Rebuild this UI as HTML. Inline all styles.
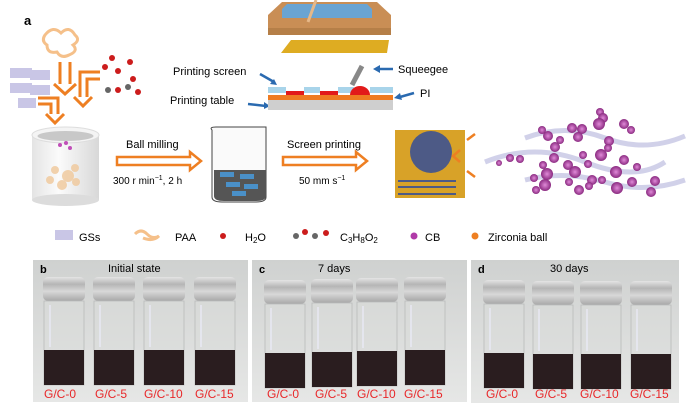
<!DOCTYPE html>
<html><head><meta charset="utf-8"><style>
body{margin:0;background:#fff;}
svg{display:block;font-family:"Liberation Sans",sans-serif;}
</style></head><body>
<svg width="700" height="412" viewBox="0 0 700 412" xmlns="http://www.w3.org/2000/svg">
<defs>
<linearGradient id="cyl" x1="0" x2="1"><stop offset="0" stop-color="#e4e4e4"/><stop offset=".4" stop-color="#fbfbfb"/><stop offset="1" stop-color="#d8d8d8"/></linearGradient>
<linearGradient id="bg" x1="0" y1="0" x2="0" y2="1"><stop offset="0" stop-color="#cfd1d0"/><stop offset="1" stop-color="#e6e7e6"/></linearGradient>
<linearGradient id="cap" x1="0" y1="0" x2="0" y2="1"><stop offset="0" stop-color="#e4e4e4"/><stop offset=".3" stop-color="#b5b5b5"/><stop offset=".6" stop-color="#d8d8d8"/><stop offset="1" stop-color="#a8a8a8"/></linearGradient>
<radialGradient id="cb"><stop offset="0" stop-color="#e08ad8"/><stop offset="1" stop-color="#8a2a80"/></radialGradient>
<g id="vial">
 <rect x="-21" y="0" width="42" height="24" rx="5" fill="url(#cap)"/>
 <path d="M-20 24 h40 v84 h-40z" fill="#d9dbda" fill-opacity=".5" stroke="#b9bbba" stroke-width=".8"/>
 <line x1="-14" y1="28" x2="-14" y2="70" stroke="#eef" stroke-width="1.5" opacity=".7"/>
 <rect x="-20" y="73" width="40" height="35" fill="#2a1d1f"/>
</g>
</defs>
<text x="24" y="25" font-size="13" font-weight="bold">a</text>
<path d="M45 35 q8-10 16-2 q8-8 14 2 q6 5-2 10 q6 6-4 10 q-8 4-12-3 q-10 2-10-7 q-6-4-2-10" fill="none" stroke="#f5c08a" stroke-width="3"/>
<g fill="#c9c6e6"><rect x="10" y="68" width="22" height="10"/><rect x="30" y="70" width="20" height="10"/><rect x="10" y="83" width="22" height="10"/><rect x="30" y="85" width="20" height="10"/><rect x="18" y="98" width="18" height="10"/></g>
<g fill="#cc1c1c"><circle cx="112" cy="58" r="3"/><circle cx="105" cy="67" r="3"/><circle cx="118" cy="71" r="3"/><circle cx="130" cy="62" r="3"/><circle cx="133" cy="79" r="3"/><circle cx="118" cy="90" r="3"/><circle cx="138" cy="92" r="3"/></g>
<g fill="#666"><circle cx="108" cy="90" r="3"/><circle cx="128" cy="87" r="3"/></g>
<g fill="none" stroke="#ee7f22" stroke-width="3">
<path d="M60 62 v22 M70 62 v22 M54 84 l11 10 l11-10"/>
<path d="M100 72 h-20 v25 M100 79 h-13 v18 M74 97 l9 9 l9-9"/>
<path d="M38 98 h20 v16 M38 104 h13 v10 M46 114 l9 9 l9-9"/>
</g>
<rect x="32" y="135" width="67" height="65" fill="url(#cyl)"/>
<ellipse cx="65.5" cy="200" rx="33.5" ry="6" fill="#dcdcdc"/>
<ellipse cx="65.5" cy="135" rx="33.5" ry="8" fill="#f4f4f4" stroke="#ddd"/>
<ellipse cx="65.5" cy="136" rx="28" ry="5" fill="#c8c8c8"/>
<g fill="#f0c89a" opacity=".8"><circle cx="55" cy="170" r="4"/><circle cx="68" cy="176" r="6"/><circle cx="75" cy="168" r="4"/><circle cx="50" cy="180" r="4"/><circle cx="62" cy="185" r="5"/><circle cx="76" cy="182" r="4"/></g>
<g fill="#c04fb8"><circle cx="60" cy="145" r="2"/><circle cx="66" cy="143" r="2"/><circle cx="70" cy="148" r="2"/></g>
<text x="126" y="148" font-size="11">Ball milling</text>
<path d="M117 157 h73 v-5 l11 9 l-11 9 v-5 h-73z" fill="#fff" stroke="#ee7f22" stroke-width="2.5"/>
<text x="113" y="184" font-size="10">300 r min<tspan font-size="7" dy="-4">−1</tspan><tspan dy="4">, 2 h</tspan></text>
<path d="M212 130 q-3-3 4-3 h50 v70 q0 5-10 5 h-34 q-10 0-10-5z" fill="#fafafa" stroke="#444" stroke-width="1"/>
<path d="M214 170 h52 v26 q0 5-10 5 h-32 q-10 0-10-5z" fill="#555"/>
<g fill="#4a90c8"><rect x="220" y="172" width="14" height="5"/><rect x="240" y="174" width="14" height="5"/><rect x="226" y="182" width="14" height="5"/><rect x="244" y="184" width="14" height="5"/><rect x="232" y="191" width="14" height="5"/></g>
<text x="287" y="148" font-size="11">Screen printing</text>
<path d="M283 157 h73 v-5 l11 9 l-11 9 v-5 h-73z" fill="#fff" stroke="#ee7f22" stroke-width="2.5"/>
<text x="299" y="184" font-size="10">50 mm s<tspan font-size="7" dy="-4">−1</tspan></text>
<path d="M268 15 l14-13 h95 l14 13 v20 h-123z" fill="#c98e55"/>
<path d="M282 9 l5-5 h80 l5 5 v9 h-90z" fill="#6aa4d2"/>
<rect x="268" y="28" width="123" height="7" fill="#b57f48"/>
<line x1="308" y1="22" x2="316" y2="0" stroke="#e6b888" stroke-width="3"/>
<path d="M281 53 l10-13 h98 l-2 13z" fill="#deac22"/>
<text x="173" y="75" font-size="11">Printing screen</text>
<text x="170" y="104" font-size="11">Printing table</text>
<path d="M260 74 l14 8" stroke="#2a6ab0" stroke-width="2.5"/><path d="M270 84 l7 1 l-3-6z" fill="#2a6ab0"/>
<path d="M248 104 l18 2" stroke="#2a6ab0" stroke-width="2.5"/><path d="M270 106 l-6 3 v-7z" fill="#2a6ab0"/>
<g fill="#a8d4ea"><rect x="268" y="87" width="18" height="6"/><rect x="304" y="87" width="16" height="6"/><rect x="338" y="87" width="16" height="6"/><rect x="370" y="87" width="23" height="6"/></g>
<g fill="#e21a1a"><rect x="286" y="91" width="18" height="4"/><rect x="320" y="91" width="18" height="4"/><path d="M350 95 a10 9 0 0 1 20 0z"/></g>
<rect x="268" y="95" width="125" height="5" fill="#ee7b22"/>
<rect x="268" y="100" width="125" height="10" fill="#cfcfcf"/>
<line x1="352" y1="85" x2="362" y2="66" stroke="#888" stroke-width="5"/>
<text x="398" y="73" font-size="11">Squeegee</text>
<path d="M393 69 h-14" stroke="#2a6ab0" stroke-width="2.5"/><path d="M373 69 l7-4 v8z" fill="#2a6ab0"/>
<text x="420" y="97" font-size="11">PI</text>
<path d="M414 93 l-14 4" stroke="#2a6ab0" stroke-width="2.5"/><path d="M394 98 l6-5 l2 7z" fill="#2a6ab0"/>
<rect x="395" y="130" width="70" height="68" fill="#d8a228"/>
<circle cx="431" cy="152" r="21" fill="#4d5a86"/>
<g stroke="#4d5a86" stroke-width="2"><line x1="398" y1="181" x2="456" y2="181"/><line x1="398" y1="187" x2="456" y2="187"/><line x1="398" y1="194" x2="456" y2="194"/></g>
<g stroke="#ee7f22" stroke-width="2.5" fill="none"><path d="M467 140 l8-6"/><path d="M467 171 l8 6"/><path d="M460 150 l-7 6 l7 6"/></g>
<g fill="none" stroke="#9a9ad0" stroke-width="5" opacity=".45">
<path d="M525 138 q40-15 80 0 t80-2"/><path d="M485 162 q50-20 100 0 t80 0"/><path d="M525 180 q40-10 80 2 t80-2"/>
</g>
<g fill="url(#cb)">
<circle cx="600" cy="112" r="4"/><circle cx="603" cy="118" r="5"/><circle cx="599" cy="124" r="6"/><circle cx="582" cy="129" r="5"/><circle cx="572" cy="128" r="5"/><circle cx="624" cy="124" r="5"/><circle cx="631" cy="130" r="4"/><circle cx="542" cy="130" r="4"/><circle cx="548" cy="136" r="5"/><circle cx="578" cy="137" r="5"/><circle cx="560" cy="140" r="4"/><circle cx="555" cy="147" r="5"/><circle cx="609" cy="141" r="5"/><circle cx="608" cy="148" r="4"/><circle cx="601" cy="155" r="6"/><circle cx="583" cy="155" r="4"/><circle cx="510" cy="158" r="4"/><circle cx="520" cy="159" r="4"/><circle cx="554" cy="158" r="5"/><circle cx="568" cy="165" r="5"/><circle cx="588" cy="164" r="4"/><circle cx="624" cy="160" r="5"/><circle cx="637" cy="167" r="4"/><circle cx="499" cy="163" r="3"/><circle cx="543" cy="165" r="4"/><circle cx="547" cy="174" r="6"/><circle cx="575" cy="172" r="6"/><circle cx="616" cy="172" r="6"/><circle cx="632" cy="182" r="5"/><circle cx="534" cy="178" r="4"/><circle cx="545" cy="185" r="6"/><circle cx="569" cy="182" r="4"/><circle cx="592" cy="180" r="5"/><circle cx="602" cy="180" r="4"/><circle cx="579" cy="190" r="5"/><circle cx="617" cy="188" r="6"/><circle cx="655" cy="181" r="5"/><circle cx="651" cy="192" r="5"/><circle cx="536" cy="190" r="4"/><circle cx="589" cy="186" r="4"/>
</g>
<g font-size="11">
<rect x="55" y="230" width="18" height="10" fill="#c9c6e6"/><text x="79" y="241">GSs</text>
<path d="M135 234 q6-6 12 0 t12 2 q-6 6-16 2" fill="none" stroke="#f5c08a" stroke-width="3"/><text x="175" y="241">PAA</text>
<circle cx="223" cy="236" r="3" fill="#cc1c1c"/><text x="245" y="241">H<tspan font-size="8" dy="2">2</tspan><tspan dy="-2">O</tspan></text>
<circle cx="296" cy="236" r="3" fill="#666"/><circle cx="305" cy="232" r="3" fill="#cc1c1c"/><circle cx="315" cy="236" r="3" fill="#666"/><circle cx="326" cy="233" r="3" fill="#cc1c1c"/>
<text x="340" y="241">C<tspan font-size="8" dy="2">3</tspan><tspan dy="-2">H</tspan><tspan font-size="8" dy="2">8</tspan><tspan dy="-2">O</tspan><tspan font-size="8" dy="2">2</tspan></text>
<circle cx="414" cy="236" r="3.5" fill="#b03aa8"/><text x="425" y="241">CB</text>
<circle cx="475" cy="236" r="3.5" fill="#ee7f22"/><text x="488" y="241">Zirconia ball</text>
</g>
<g>
<rect x="33" y="260" width="215" height="142" fill="url(#bg)"/>
<text x="40" y="273" font-size="11" font-weight="bold">b</text><text x="108" y="272" font-size="11">Initial state</text>
<use href="#vial" x="64" y="277"/><use href="#vial" x="114" y="277"/><use href="#vial" x="164" y="277"/><use href="#vial" x="215" y="277"/>
<g fill="#e8282a" font-size="12"><text x="44" y="398">G/C-0</text><text x="95" y="398">G/C-5</text><text x="144" y="398">G/C-10</text><text x="195" y="398">G/C-15</text></g>
</g>
<g>
<rect x="252" y="260" width="215" height="142" fill="url(#bg)"/>
<text x="259" y="273" font-size="11" font-weight="bold">c</text><text x="318" y="272" font-size="11">7 days</text>
<use href="#vial" x="285" y="280"/><use href="#vial" x="332" y="279"/><use href="#vial" x="377" y="278"/><use href="#vial" x="425" y="277"/>
<g fill="#e8282a" font-size="12"><text x="267" y="398">G/C-0</text><text x="315" y="398">G/C-5</text><text x="357" y="398">G/C-10</text><text x="404" y="398">G/C-15</text></g>
</g>
<g>
<rect x="471" y="260" width="208" height="143" fill="url(#bg)"/>
<text x="478" y="273" font-size="11" font-weight="bold">d</text><text x="550" y="272" font-size="11">30 days</text>
<use href="#vial" x="504" y="280"/><use href="#vial" x="553" y="281"/><use href="#vial" x="601" y="281"/><use href="#vial" x="651" y="281"/>
<g fill="#e8282a" font-size="12"><text x="486" y="398">G/C-0</text><text x="535" y="398">G/C-5</text><text x="580" y="398">G/C-10</text><text x="630" y="398">G/C-15</text></g>
</g>
</svg>
</body></html>
